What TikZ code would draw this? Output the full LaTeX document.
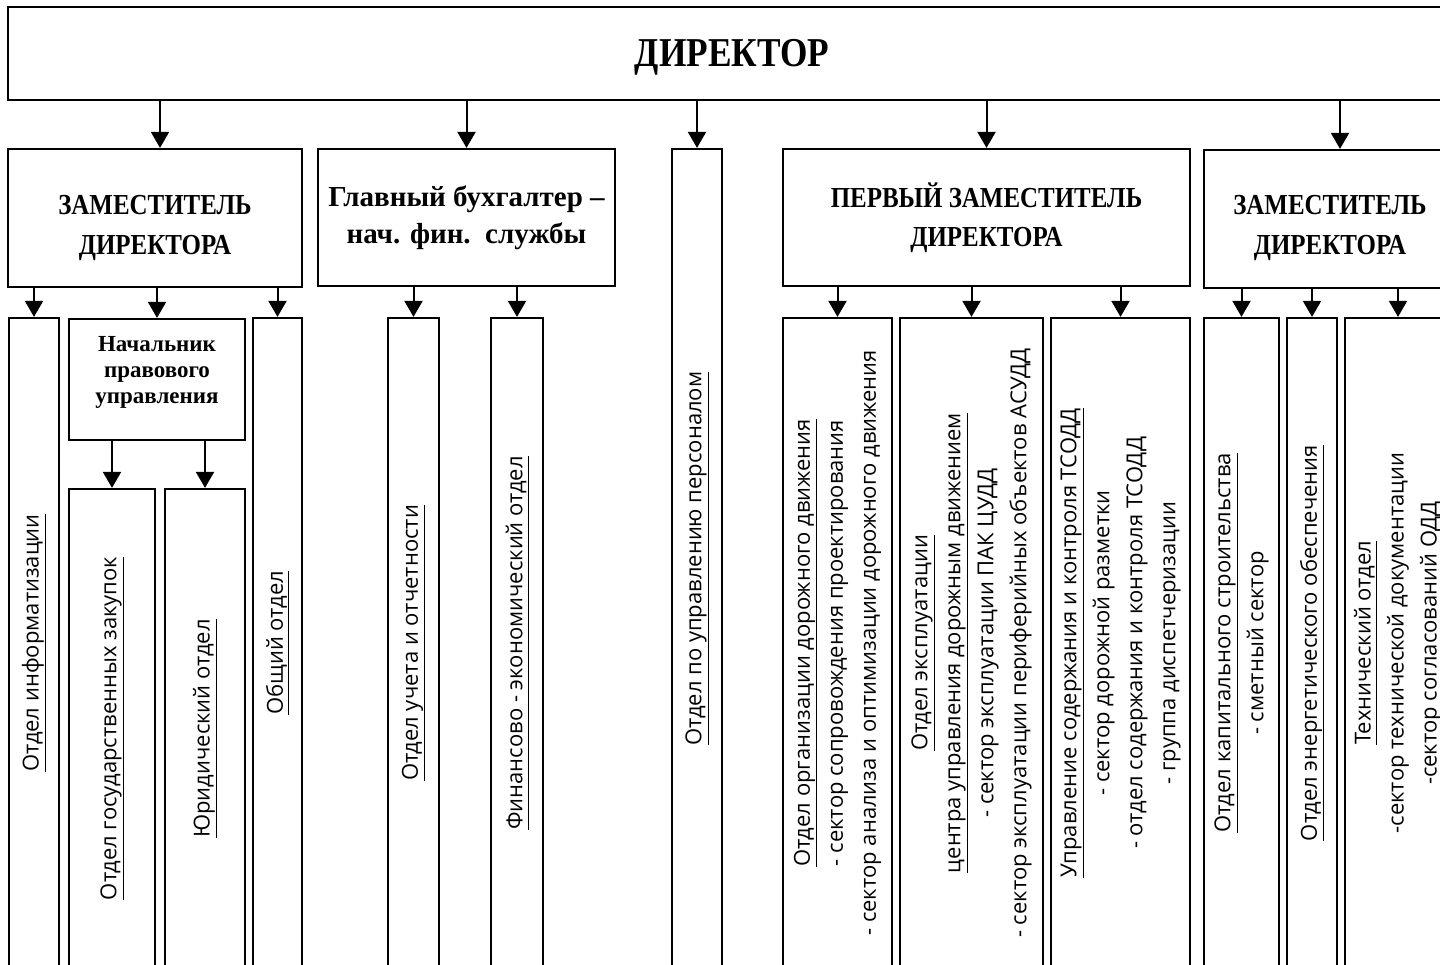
\documentclass[tikz,border=0pt]{standalone}
\usepackage{fontspec}
\setmainfont{Liberation Serif}
\setsansfont{Open Sans}
\newfontfamily\capsfont{Liberation Serif}[FakeStretch=0.86]
\usepackage{xcolor}
\usepackage{tikz}
\usetikzlibrary{arrows.meta}

\tikzset{
  box/.style={draw, line width=2.2pt, inner sep=0pt},
  head/.style={font=\capsfont\bfseries\fontsize{29}{40}\selectfont, align=center},
  vtxt/.style={rotate=90, align=center, inner sep=0pt, font=\sffamily\fontsize{22}{33}\selectfont},
  arr/.style={line width=2pt, -{Triangle[width=18pt,length=16pt]}}
}

\begin{document}
\begin{tikzpicture}[x=1pt,y=-1pt]
        \useasboundingbox (0,0) rectangle (1440,965);
        \clip (0,0) rectangle (1440,965);
        % Director
        \node[box, minimum width=1448pt, minimum height=93pt, text height=27pt, text depth=0pt,
              font=\capsfont\bfseries\fontsize{41}{44}\selectfont] (dir) at (732,53.5) {ДИРЕКТОР};
        % Second level
        \node[box, head, text height=79.5pt, minimum width=294pt, minimum height=138pt] (zl) at (155,218)
              {ЗАМЕСТИТЕЛЬ\\ДИРЕКТОРА};
        \node[box, align=center, font=\bfseries\fontsize{29}{37}\selectfont,
              minimum width=297pt, minimum height=137pt] (gb) at (466.5,217.5)
              {Главный бухгалтер –\\нач. фин.\ \ службы};
        \node[box, minimum width=50pt, minimum height=819pt] (op) at (697,558.5) {};
        \node[vtxt] (op-t) at (op) {\underline{Отдел по управлению персоналом}};
        \node[box, head, text height=64.5pt, font=\capsfont\bfseries\fontsize{29}{39}\selectfont,
              minimum width=407pt, minimum height=137pt] (pz) at (986.5,217.5)
              {ПЕРВЫЙ ЗАМЕСТИТЕЛЬ\\ДИРЕКТОРА};
        \node[box, head, text height=77.5pt, minimum width=252pt, minimum height=138pt] (zr) at (1330,219)
              {ЗАМЕСТИТЕЛЬ\\ДИРЕКТОРА};
        % Deputy director (left)
        \node[box, minimum width=50pt, minimum height=650pt] (oi) at (34,643) {};
        \node[vtxt] (oi-t) at (oi) {\underline{Отдел информатизации}};
        \node[box, align=center, font=\bfseries\fontsize{23}{26}\selectfont, text depth=19pt,
              minimum width=176pt, minimum height=121pt] (np) at (157,379.5)
              {Начальник\\правового\\управления};
        \node[box, minimum width=49pt, minimum height=650pt] (oo) at (277.5,643) {};
        \node[vtxt] (oo-t) at (oo) {\underline{Общий отдел}};
        \node[box, minimum width=86pt, minimum height=479pt] (ogz) at (112,728.5) {};
        \node[vtxt] (ogz-t) at (ogz) {\underline{Отдел государственных закупок}};
        \node[box, minimum width=80pt, minimum height=479pt] (yo) at (205,728.5) {};
        \node[vtxt] (yo-t) at (yo) {\underline{Юридический отдел}};
        % Chief accountant
        \node[box, minimum width=51pt, minimum height=650pt] (ouo) at (413.5,643) {};
        \node[vtxt] (ouo-t) at (ouo) {\underline{Отдел учета и отчетности}};
        \node[box, minimum width=52pt, minimum height=650pt] (fe) at (517,643) {};
        \node[vtxt] (fe-t) at (fe) {\underline{Финансово - экономический отдел}};
        % First deputy
        \node[box, minimum width=109pt, minimum height=650pt] (odd) at (837.5,643) {};
        \node[vtxt] (odd-t) at (odd) {\underline{Отдел организации дорожного движения}\\
              - сектор сопровождения проектирования\\
              - сектор анализа и оптимизации дорожного движения};
        \node[box, minimum width=143pt, minimum height=650pt] (oe) at (971.5,643) {};
        \node[vtxt] (oe-t) at (oe) {\underline{Отдел эксплуатации}\\
              \underline{центра управления дорожным движением}\\
              - сектор эксплуатации ПАК ЦУДД\\
              - сектор эксплуатации периферийных объектов АСУДД};
        \node[box, minimum width=139pt, minimum height=650pt] (us) at (1120.5,643) {};
        \node[vtxt] (us-t) at (us) {\underline{Управление содержания и контроля ТСОДД}\\
              - сектор дорожной разметки\\
              - отдел содержания и контроля ТСОДД\\
              - группа диспетчеризации};
        % Deputy director (right)
        \node[box, minimum width=75pt, minimum height=650pt] (oks) at (1241.5,643) {};
        \node[vtxt] (oks-t) at (oks) {\underline{Отдел капитального строительства}\\
              - сметный сектор};
        \node[box, minimum width=50pt, minimum height=650pt] (oeo) at (1312,643) {};
        \node[vtxt] (oeo-t) at (oeo) {\underline{Отдел энергетического обеспечения}};
        \node[box, minimum width=106pt, minimum height=650pt] (to) at (1398,643) {};
        \node[vtxt] (to-t) at (to) {\underline{Технический отдел}\\
              -сектор технической документации\\
              -сектор согласований ОДД};
        % Arrows
        \draw[arr] ([xshift=5pt]dir.south -| zl.north) -- ([xshift=5pt]zl.north);
        \draw[arr] (dir.south -| gb.north) -- (gb.north);
        \draw[arr] (dir.south -| op.north) -- (op.north);
        \draw[arr] (dir.south -| pz.north) -- (pz.north);
        \draw[arr] ([xshift=10pt]dir.south -| zr.north) -- ([xshift=10pt]zr.north);
        \draw[arr] (zl.south -| oi.north) -- (oi.north);
        \draw[arr] (zl.south -| np.north) -- (np.north);
        \draw[arr] (zl.south -| oo.north) -- (oo.north);
        \draw[arr] (np.south -| ogz.north) -- (ogz.north);
        \draw[arr] (np.south -| yo.north) -- (yo.north);
        \draw[arr] (gb.south -| ouo.north) -- (ouo.north);
        \draw[arr] (gb.south -| fe.north) -- (fe.north);
        \draw[arr] (pz.south -| odd.north) -- (odd.north);
        \draw[arr] (pz.south -| oe.north) -- (oe.north);
        \draw[arr] (pz.south -| us.north) -- (us.north);
        \draw[arr] (zr.south -| oks.north) -- (oks.north);
        \draw[arr] (zr.south -| oeo.north) -- (oeo.north);
        \draw[arr] (zr.south -| to.north) -- (to.north);
\end{tikzpicture}
\end{document}
